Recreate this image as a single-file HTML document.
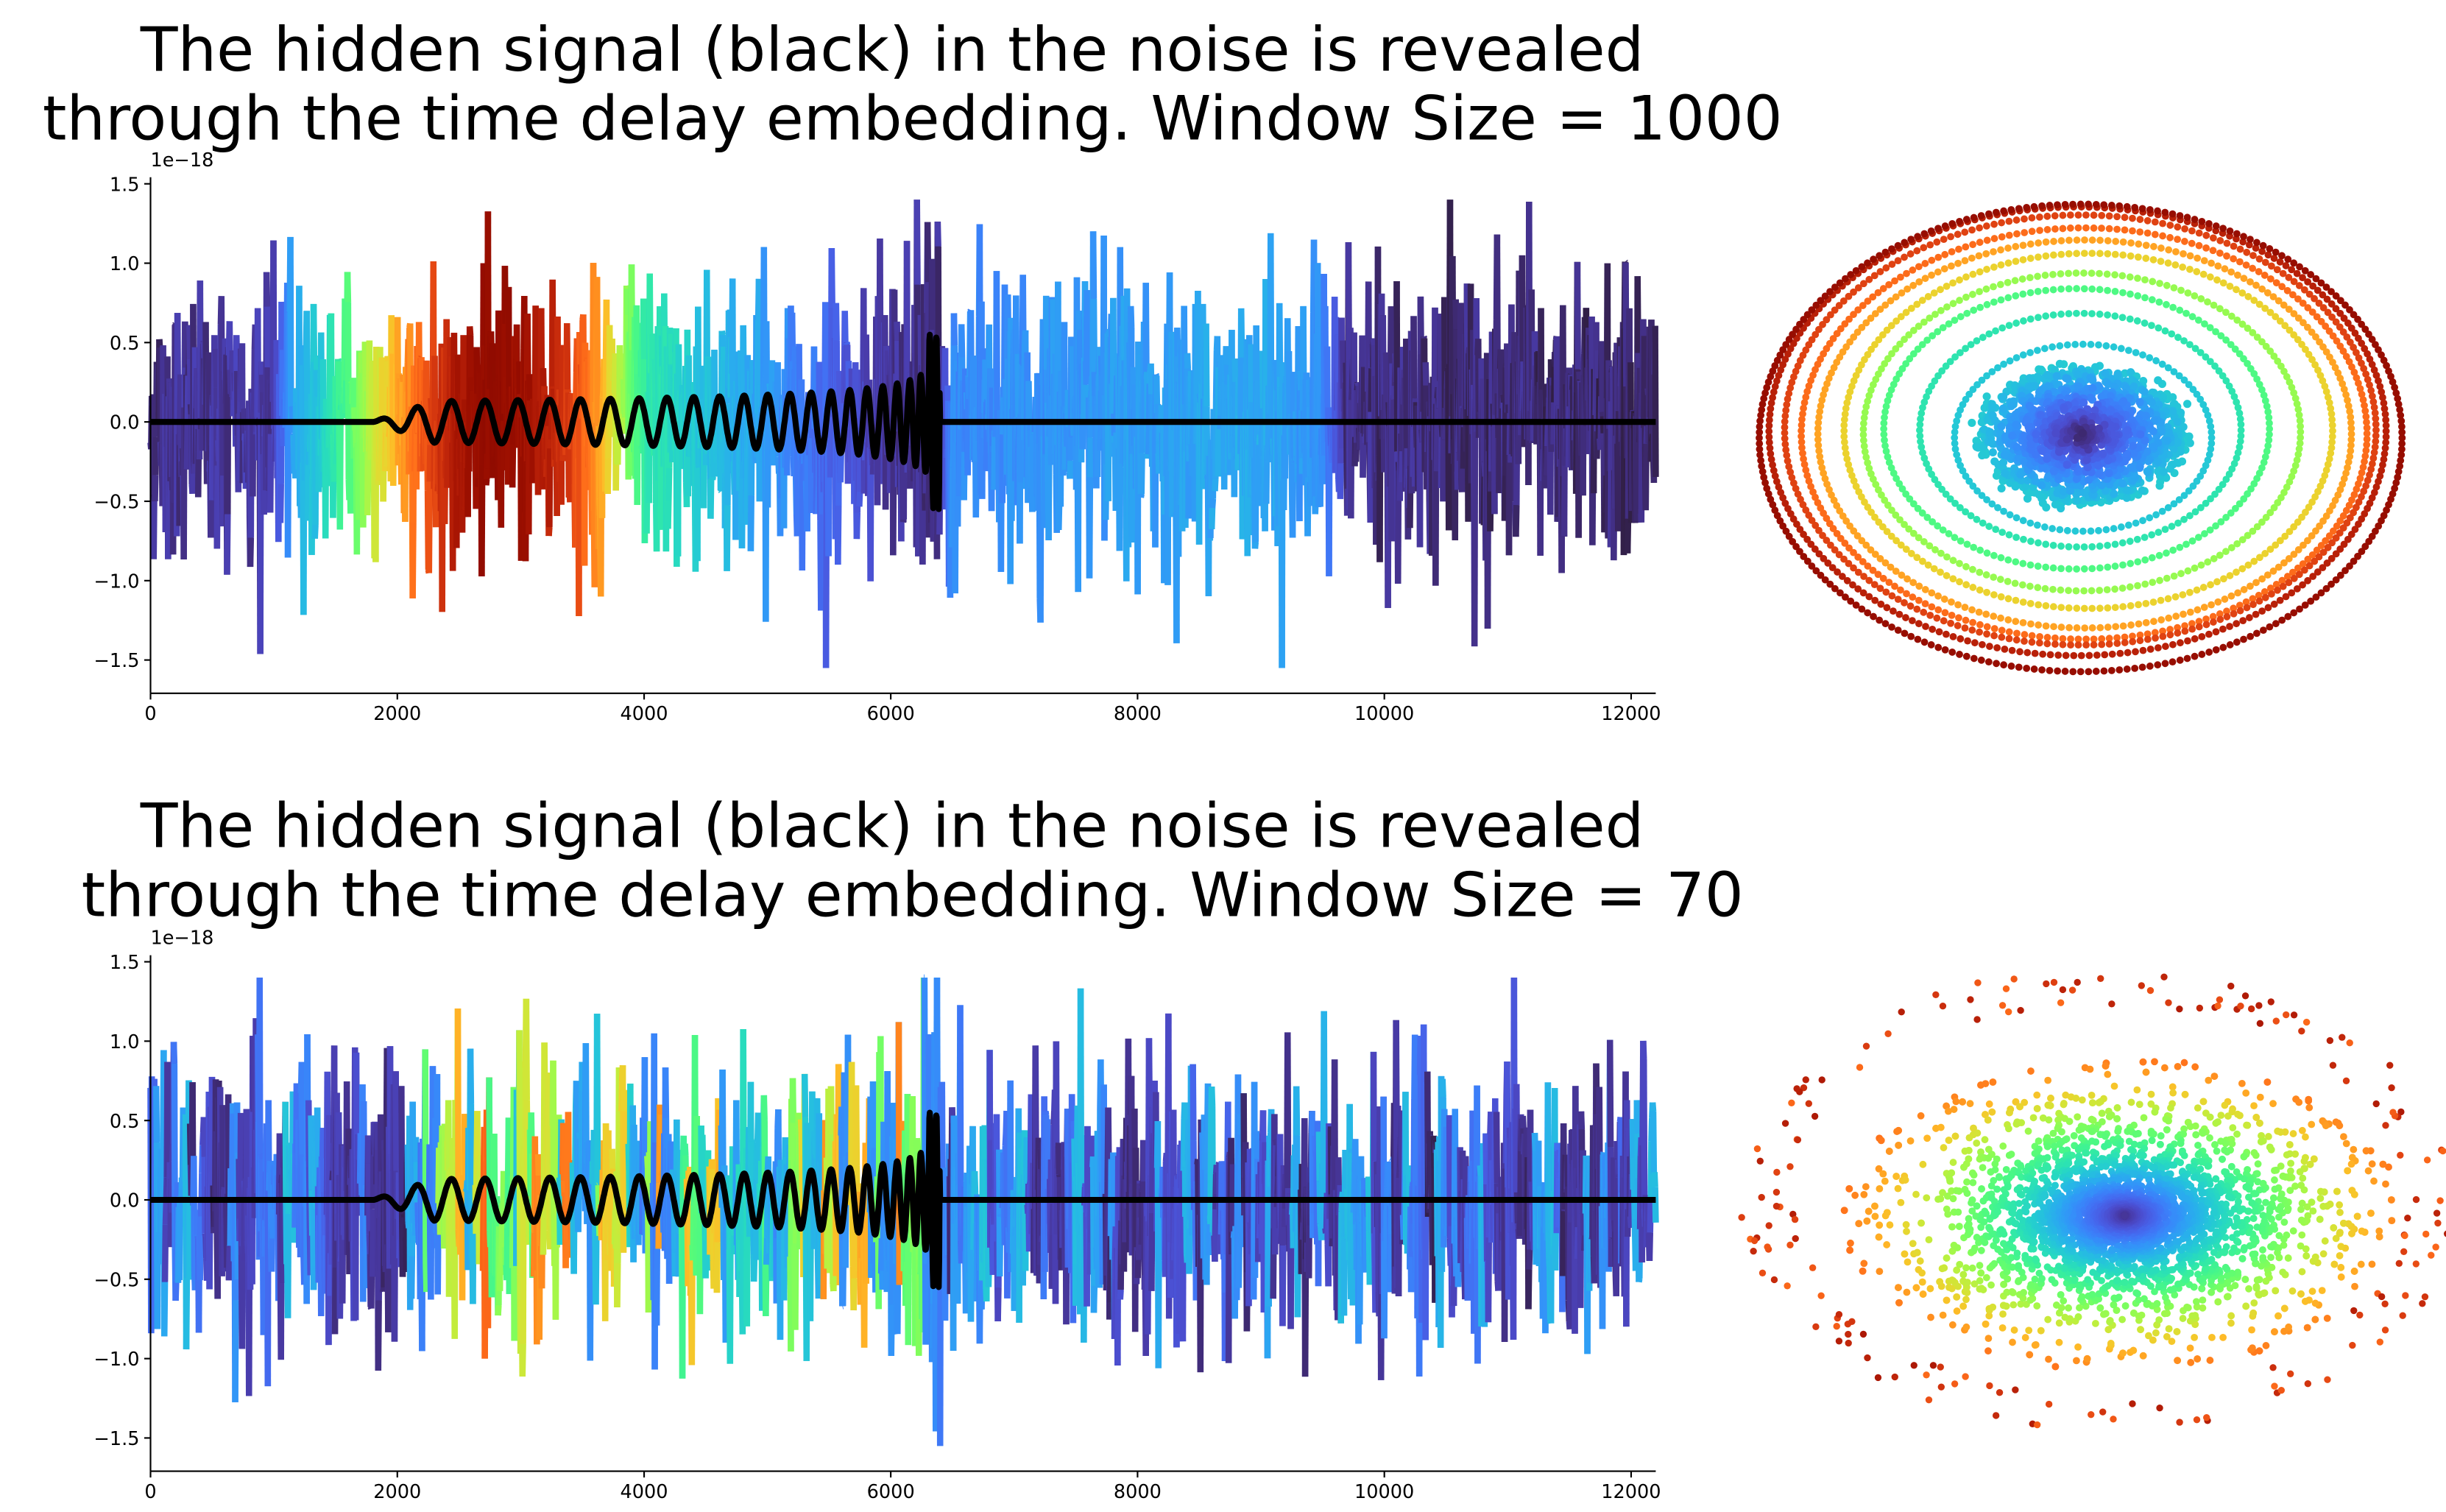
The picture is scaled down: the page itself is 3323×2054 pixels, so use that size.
<!DOCTYPE html>
<html><head><meta charset="utf-8">
<style>
html,body{margin:0;padding:0;background:#fff;}
svg{display:block;}
text{font-family:"DejaVu Sans","Liberation Sans",sans-serif;fill:#000;}
</style></head>
<body>
<svg id="s" width="3323" height="2054" viewBox="0 0 1560 964" preserveAspectRatio="none" xmlns="http://www.w3.org/2000/svg">
<g font-size="39" text-anchor="middle">
<text x="569" y="45">The hidden signal (black) in the noise is revealed</text>
<text x="582" y="89">through the time delay embedding. Window Size = 1000</text>
<text x="569" y="540">The hidden signal (black) in the noise is revealed</text>
<text x="582" y="584">through the time delay embedding. Window Size = 70</text>
</g>
<g id="g"></g>
</svg>
<script>
var G=document.getElementById('g');
var seed=12345;function rnd(){seed=(seed*1103515245+12345)&0x7fffffff;return seed/0x7fffffff;}
function gauss(){var u=rnd()||1e-6,v=rnd();return Math.sqrt(-2*Math.log(u))*Math.cos(2*Math.PI*v);}
function turbo(x){x=Math.max(0,Math.min(1,x));
var r=0.13572138+x*(4.61539260+x*(-42.66032258+x*(132.13108234+x*(-152.94239396+x*59.28637943))));
var g=0.09140261+x*(2.19418839+x*(4.84296658+x*(-14.18503333+x*(4.27729857+x*2.82956604))));
var b=0.10667330+x*(12.64194608+x*(-60.58204836+x*(110.36276771+x*(-89.90310912+x*27.34824973))));
function c(v){return Math.round(Math.max(0,Math.min(1,v))*255);}
return "rgb("+c(r)+","+c(g)+","+c(b)+")";}
var html=[];
function line(x1,y1,x2,y2,col,w){html.push('<line x1="'+x1.toFixed(1)+'" y1="'+y1.toFixed(1)+'" x2="'+x2.toFixed(1)+'" y2="'+y2.toFixed(1)+'" stroke="'+col+'" stroke-width="'+w+'"/>');}
function txt(x,y,s,anchor){html.push('<text x="'+x+'" y="'+y+'" font-size="12" text-anchor="'+anchor+'">'+s+'</text>');}
function interp(pts,t){for(var i=0;i<pts.length-1;i++){if(t<=pts[i+1][0]){var f=(t-pts[i][0])/(pts[i+1][0]-pts[i][0]);return pts[i][1]+f*(pts[i+1][1]-pts[i][1]);}}return pts[pts.length-1][1];}
var topProf=[[0,0.04],[1000,0.06],[1150,0.2],[1400,0.28],[1600,0.4],[1800,0.55],[2000,0.68],[2200,0.8],[2500,0.92],[2800,0.98],[3100,0.93],[3400,0.85],[3600,0.75],[3800,0.55],[4000,0.35],[4400,0.27],[5000,0.2],[5500,0.12],[6000,0.05],[6400,0.04],[6500,0.17],[8000,0.2],[9000,0.22],[9500,0.18],[9700,0.04],[12200,0.03]];
function axes(y0,top){
 var x0=96,x1=1056,sx=960/12200,sy=101.2;
 var N=2400,prev=null;
 var burst=0.15,bc=0;
 for(var i=0;i<=N;i++){
  var t=i/N*12200;
  var v=gauss()*0.42; if(rnd()<0.01)v*=1.7;
  if(t>6200&&t<6400)v*=1.8;
  v=Math.max(-1.55,Math.min(1.4,v));
  var col;
  if(top){col=turbo(interp(topProf,t)+ (rnd()-0.5)*0.04);}
  else{ if(bc<=0){bc=4+Math.floor(rnd()*14);
     if(t>2200&&t<6300){burst=rnd()<0.5?0.15+rnd()*0.15:0.35+rnd()*0.45;} else {burst=rnd()<0.45?0.03+rnd()*0.06:0.12+rnd()*0.14;}}
    bc--; col=turbo(burst+(rnd()-0.5)*0.03);}
  var px=x0+t*sx,py=y0-v*sy;
  if(prev)line(prev[0],prev[1],px,py,col,4);
  prev=[px,py];
 }
 var pts=[];
 for(var t=0;t<=12200;t+=4){
  var v=0;
  if(t>1800&&t<6400){
   var tau=(6400-t)/4600;
   var a=0.17*Math.min(1,(t-1800)/500)*Math.pow(tau,-0.25)*0.75;
   if(tau<0.02)a=0.55;
   var ph=2*Math.PI*14.5*(1-Math.pow(tau,0.62))*1.75;
   v=a*Math.sin(ph);
   v=Math.max(-0.6,Math.min(0.58,v));
  }
  pts.push((x0+t*sx).toFixed(1)+","+(y0-v*sy).toFixed(1));
 }
 html.push('<polyline points="'+pts.join(" ")+'" fill="none" stroke="#000" stroke-width="3.8" stroke-linejoin="round"/>');
 var yb=y0+173, yt=y0-156;
 line(x0,yt,x0,yb,"#000",1);line(x0,yb,x1,yb,"#000",1);
 [1.5,1.0,0.5,0.0,-0.5,-1.0,-1.5].forEach(function(v){var y=y0-v*sy;line(x0-4,y,x0,y,"#000",1);txt(x0-7,y+4.5,(v<0?"\u2212":"")+Math.abs(v).toFixed(1),"end");});
 for(var k=0;k<=12000;k+=2000){var x=x0+k*sx;line(x,yb,x,yb+4,"#000",1);txt(x,yb+17,k,"middle");}
 txt(96,y0-163,"1e\u221218","start");
}
axes(269,true);
axes(765,false);
(function(){
 var cx=1328,cy=277,RX=205,RY=149;
 var bl=[];
 for(var j=0;j<1500;j++){var a=rnd()*6.283,q=Math.pow(rnd(),0.6)*0.33;bl.push([q,a]);}
 bl.sort(function(p,q){return q[0]-p[0];});
 bl.forEach(function(p){var q=p[0],a=p[1];
  var x=cx+RX*q*Math.cos(a)+gauss()*2,y=cy+RY*q*Math.sin(a)*0.9+gauss()*2;
  html.push('<circle cx="'+x.toFixed(1)+'" cy="'+y.toFixed(1)+'" r="2.6" fill="'+turbo(0.03+q*0.75)+'"/>');});
 var rings=[[0.4,0.27],[0.5,0.33],[0.6,0.4],[0.68,0.5],[0.76,0.62],[0.83,0.7],[0.88,0.78],[0.92,0.84],[0.96,0.9],[1.0,0.96]];
 rings.forEach(function(r,k){
  var n=Math.round(260*r[0]);var ox=(rnd()-0.5)*8,oy=(rnd()-0.5)*8;
  for(var i=0;i<n;i++){var a=i/n*6.283;
   var x=cx+ox+RX*r[0]*Math.cos(a),y=cy+oy+RY*r[0]*Math.sin(a);
   html.push('<circle cx="'+x.toFixed(1)+'" cy="'+y.toFixed(1)+'" r="2.3" fill="'+turbo(r[1])+'"/>');}
 });
})();
(function(){
 var cx=1355,cy=775,RX=180,RY=100;
 var pts=[];
 for(var i=0;i<5000;i++){
  var a=rnd()*6.283,q=Math.abs(gauss())*0.42;if(q>1.0)q=0.9+rnd()*0.1;
  pts.push([q,a]);
 }
 pts.sort(function(p,q){return q[0]-p[0];});
 pts.forEach(function(p){
  var x=cx+RX*p[0]*Math.cos(p[1]),y=cy+RY*p[0]*Math.sin(p[1]);
  html.push('<circle cx="'+x.toFixed(1)+'" cy="'+y.toFixed(1)+'" r="2.3" fill="'+turbo(0.05+p[0]*0.72)+'"/>');
 });
 for(var i=0;i<170;i++){
  var a=rnd()*6.283;var q=1.0+rnd()*0.18;
  var x=cx-15+195*q*Math.cos(a),y=cy-10+125*q*Math.sin(a);
  html.push('<circle cx="'+x.toFixed(1)+'" cy="'+y.toFixed(1)+'" r="2.2" fill="'+turbo(0.78+rnd()*0.14)+'"/>');
 }
})();
G.innerHTML=html.join("");
</script>
</body></html>
